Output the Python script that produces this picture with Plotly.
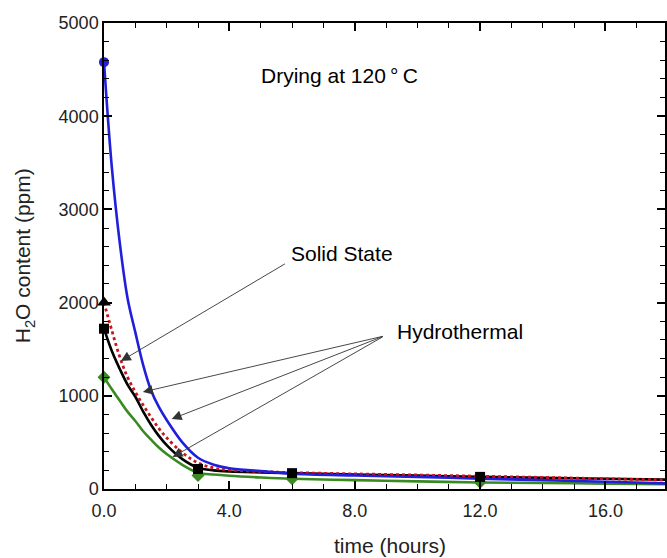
import plotly.graph_objects as go

# ---- data ----
t_fit = [0, 0.25, 0.5, 0.75, 1, 1.25, 1.5, 1.75, 2, 2.5, 3, 3.5, 4, 5, 6, 8, 10, 12, 14, 16, 18]
blue_fit = [4580, 3450, 2650, 2050, 1680, 1330, 1060, 880, 740, 500, 335, 260, 222, 192, 165, 145, 130, 110, 95, 78, 60]
red_fit = [2000, 1700, 1420, 1200, 1040, 900, 770, 650, 550, 390, 280, 225, 205, 188, 176, 162, 150, 137, 124, 110, 96]
black_fit = [1720, 1480, 1290, 1120, 990, 830, 690, 570, 470, 320, 228, 200, 188, 178, 170, 156, 143, 130, 120, 110, 100]
green_fit = [1200, 1070, 950, 830, 730, 620, 530, 445, 375, 260, 175, 155, 142, 124, 110, 95, 82, 70, 64, 58, 52]

t_blue_pts = [0]
blue_pts = [4580]
t_red_pts = [0]
red_pts = [2000]
t_black_pts = [0, 3, 6, 12]
black_pts = [1720, 215, 170, 130]
t_green_pts = [0, 3, 6, 12]
green_pts = [1200, 145, 110, 72]

x_ticks = [0, 4, 8, 12, 16]
x_ticklabels = ["0.0", "4.0", "8.0", "12.0", "16.0"]
y_ticks = [0, 1000, 2000, 3000, 4000, 5000]

BLUE = "#1f1fdc"
RED = "#c8141e"
BLACK = "#000000"
GREEN = "#3a8a22"
FONT = "Liberation Sans, Arial, sans-serif"

fig = go.Figure()
fig.add_trace(go.Scatter(x=t_fit, y=green_fit, mode="lines", line=dict(color=GREEN, width=2.6, shape="spline")))
fig.add_trace(go.Scatter(x=t_fit, y=black_fit, mode="lines", line=dict(color=BLACK, width=2.6, shape="spline")))
fig.add_trace(go.Scatter(x=t_fit, y=red_fit, mode="lines", line=dict(color=RED, width=2.8, dash="dot", shape="spline")))
fig.add_trace(go.Scatter(x=t_fit, y=blue_fit, mode="lines", line=dict(color=BLUE, width=2.6, shape="spline")))

fig.add_trace(go.Scatter(x=t_green_pts, y=green_pts, mode="markers", cliponaxis=False,
                         marker=dict(symbol="diamond", size=10, color=GREEN)))
fig.add_trace(go.Scatter(x=t_black_pts, y=black_pts, mode="markers", cliponaxis=False,
                         marker=dict(symbol="square", size=10, color=BLACK)))
fig.add_trace(go.Scatter(x=t_red_pts, y=red_pts, mode="markers", cliponaxis=False,
                         marker=dict(symbol="triangle-up", size=12, color=BLACK)))
fig.add_trace(go.Scatter(x=t_blue_pts, y=blue_pts, mode="markers", cliponaxis=False,
                         marker=dict(symbol="circle", size=10, color=BLUE)))

# arrows: (head_x, head_y, tail_x, tail_y)
arrows = [
    (0.54, 1373, 5.82, 2425),
    (1.24, 1041, 8.94, 1642),
    (2.16, 751, 8.94, 1642),
    (2.19, 343, 8.94, 1642),
]
for hx, hy, tx, ty in arrows:
    fig.add_annotation(x=hx, y=hy, ax=tx, ay=ty, xref="x", yref="y", axref="x", ayref="y",
                       text="", showarrow=True, arrowhead=2, arrowsize=2.2, arrowwidth=0.9,
                       arrowcolor="#333333", standoff=0, startstandoff=0)

labels = [
    (7.5, 4440, "Drying at 120\u2009°\u2009C"),
    (7.59, 2527, "Solid State"),
    (11.37, 1695, "Hydrothermal"),
]
for lx, ly, txt in labels:
    fig.add_annotation(x=lx, y=ly, xref="x", yref="y", text=txt, showarrow=False,
                       font=dict(family=FONT, size=21, color="black"), xanchor="center", yanchor="middle")

# axis titles placed as paper annotations
fig.add_annotation(x=(391 - 104) / 563, y=(489 - 545) / 466, xref="paper", yref="paper",
                   text="time (hours)", showarrow=False, xanchor="center", yanchor="middle",
                   font=dict(family=FONT, size=21, color="#222"))
fig.add_annotation(x=(24 - 104) / 563, y=0.5, xref="paper", yref="paper", textangle=-90,
                   text="H<sub>2</sub>O content (ppm)", showarrow=False, xanchor="center", yanchor="middle",
                   font=dict(family=FONT, size=21, color="#222"))

axis_common = dict(showline=True, linecolor="black", linewidth=1.5, mirror="allticks",
                   ticks="inside", ticklen=8, tickwidth=1.5, tickcolor="black",
                   showgrid=False, zeroline=False,
                   tickfont=dict(family=FONT, size=18, color="#222"))

fig.update_xaxes(range=[0, 17.9], tickvals=x_ticks, ticktext=x_ticklabels, ticklabelstandoff=5,
                 minor=dict(ticks="inside", ticklen=5, tickwidth=1.2, tickcolor="black", dtick=1, tick0=0),
                 **axis_common)
fig.update_yaxes(range=[0, 5000], tickvals=y_ticks,
                 minor=dict(ticks="inside", ticklen=5, tickwidth=1.2, tickcolor="black", dtick=200, tick0=0),
                 **axis_common)

fig.update_layout(width=667, height=558, margin=dict(l=104, r=0, t=23, b=69),
                  paper_bgcolor="white", plot_bgcolor="white", showlegend=False)

fig.write_html("out.html")
